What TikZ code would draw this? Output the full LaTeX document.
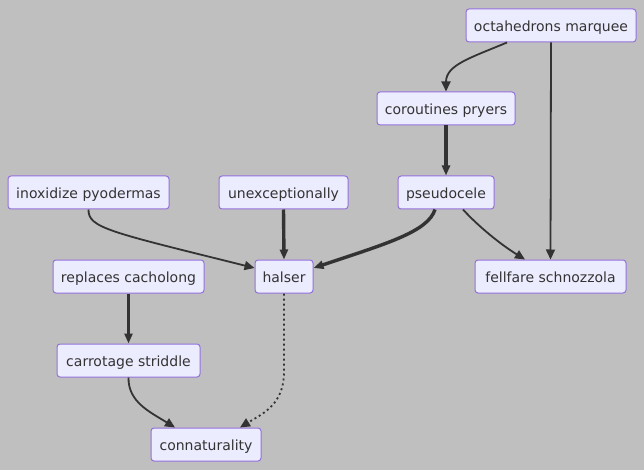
\documentclass[tikz,border=0pt]{standalone}
\usepackage{fontspec}
\setmainfont{DejaVu Sans}
\usetikzlibrary{arrows.meta}
\definecolor{bg}{HTML}{BFBFBF}
\definecolor{nfill}{HTML}{ECECFF}
\definecolor{nborder}{HTML}{9370DB}
\definecolor{ink}{HTML}{333333}
\tikzset{
  box/.style={draw=nborder, fill=nfill, line width=1pt, rounded corners=3pt,
    minimum height=33pt, inner sep=0pt, text=ink, font=\fontsize{14}{16}\selectfont,
    text height=12.5pt, text depth=0.5pt},
  thin/.style={draw=ink, line width=1.8pt, -{Triangle[length=10pt,width=9pt]}},
  thick/.style={draw=ink, line width=3.4pt, -{Triangle[length=10pt,width=8pt]}},
  dot/.style={draw=ink, line width=1.8pt, dash pattern=on 2pt off 3pt, -{Triangle[length=10pt,width=9pt]}},
}
\begin{document}
\begin{tikzpicture}[x=1pt,y=-1pt]
\fill[bg] (0,0) rectangle (644,470);
\useasboundingbox (0,0) rectangle (644,470);
\node[box, minimum width=170pt] (oct) at (551,25.5) {octahedrons marquee};
\node[box, minimum width=138pt] (cor) at (446,108.5) {coroutines pryers};
\node[box, minimum width=96pt] (pse) at (446,192.5) {pseudocele};
\node[box, minimum width=161pt] (inx) at (88.5,192.5) {inoxidize pyodermas};
\node[box, minimum width=129pt] (une) at (283.5,192.5) {unexceptionally};
\node[box, minimum width=151pt] (rep) at (128.5,276.5) {replaces cacholong};
\node[box, minimum width=58pt] (hal) at (284,276.5) {halser};
\node[box, minimum width=151pt] (fel) at (550.5,276.5) {fellfare schnozzola};
\node[box, minimum width=143pt] (car) at (128.5,360.5) {carrotage striddle};
\node[box, minimum width=110pt] (con) at (206,444.5) {connaturality};

\draw[thin] ([xshift=-44pt]oct.south) .. controls (470,58) and (446,65) .. (cor.north);
\draw[thin] (oct.south) -- (fel.north);
\draw[thick] (cor.south) -- (pse.north);
\draw[thick] ([xshift=-11pt]pse.south) .. controls (428,232) and (385,244) .. ([yshift=8.5pt]hal.east);
\draw[thin] ([xshift=17pt]pse.south) .. controls (478,226) and (500,244) .. ([xshift=-25.5pt]fel.north);
\draw[thin] (inx.south) .. controls (88,228) and (110,232) .. ([yshift=8.5pt]hal.west);
\draw[thick] (une.south) -- (hal.north);
\draw[thick] (rep.south) -- (car.north);
\draw[thin] (car.south) .. controls (128,402) and (150,412) .. ([xshift=-31pt]con.north);
\draw[dot] (hal.south) -- (284,372) .. controls (284,405) and (262,414) .. ([xshift=34pt]con.north);
\end{tikzpicture}
\end{document}
